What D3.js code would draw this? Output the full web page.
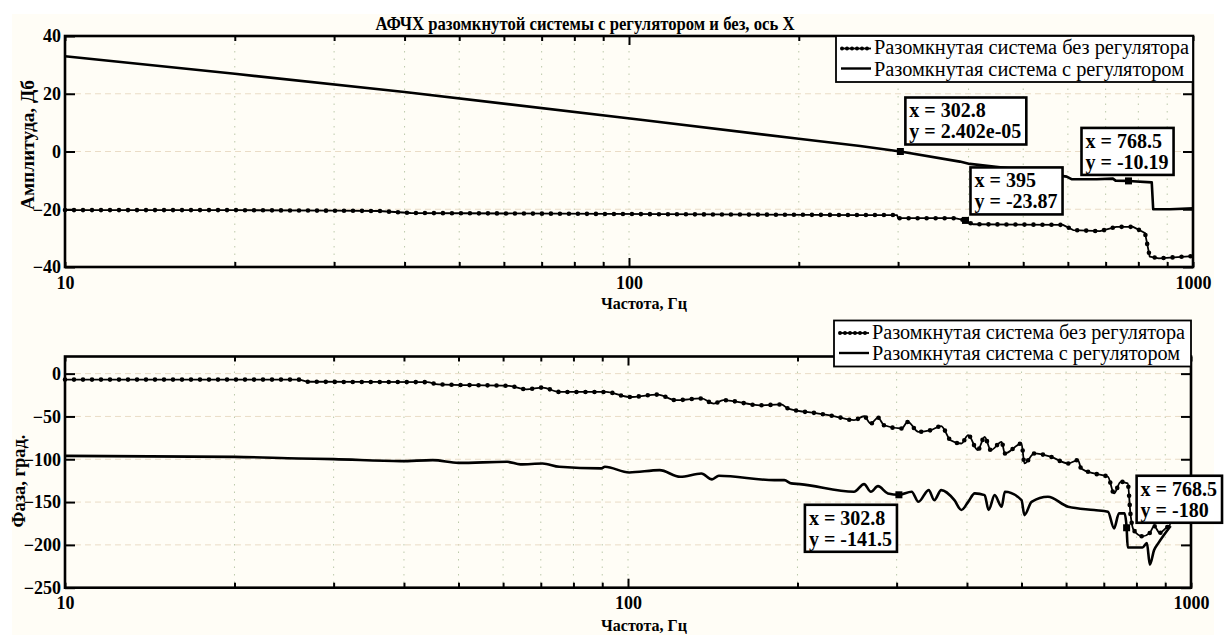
<!DOCTYPE html>
<html>
<head>
<meta charset="utf-8">
<script src="https://cdn.jsdelivr.net/npm/d3@7"></script>
<style>
  body { margin: 0; background: #fff; }
  text { font-family: "Liberation Serif", "Times New Roman", serif; }
</style>
</head>
<body>
<svg width="1226" height="637"></svg>
<script>
var FONT = "'Liberation Serif', 'Times New Roman', serif";

// ---- data ----
// amplitude, open loop without controller (dotted)
var magFreqNoReg = [10, 20, 30, 36, 41, 141, 257, 298.7, 300, 378, 395, 407, 588, 613, 684, 731, 783, 822, 838, 870, 1000];
var magNoReg     = [-20.3, -20.3, -20.5, -20.6, -21.3, -21.8, -22.0, -22.0, -23.1, -23.1, -23.87, -25.2, -25.4, -27.2, -27.6, -26.1, -26.1, -28.2, -36.4, -37, -36.2];
// amplitude, open loop with controller (solid)
var magFreqReg = [10, 20, 40, 105.8, 200, 257, 302.8, 386, 402, 480, 597, 609, 675, 721, 729, 768.5, 845, 850, 910, 1000];
var magReg     = [33, 26.9, 20.6, 10.9, 4.4, 1.9, 0, -3.5, -4.3, -6, -8.7, -9.6, -9.6, -9.4, -10.1, -10.19, -10.7, -20, -20, -19.7];

// phase, without controller (dotted)
var phFreqNoReg = [10, 26, 27, 44, 46, 61.5, 66, 70.5, 75.5, 91.4, 100.5, 113, 121.5, 135, 142, 147.7, 172, 187, 192.6, 218, 233, 252, 262.6, 270, 278, 285, 306, 314, 328, 345, 360, 374, 391, 402, 418, 430, 441, 461, 467, 500, 506, 527, 564, 605, 630, 638, 673, 712, 730, 750, 772, 781, 790, 820, 845, 860, 880, 900, 920];
var phNoReg     = [-7, -7, -9.5, -10, -12.5, -14.4, -18.3, -16.3, -21.4, -21.4, -27.3, -24.5, -31, -29, -35, -31, -37, -36, -40.8, -46.6, -49.8, -54.4, -49.8, -58.3, -51.3, -60.3, -64.1, -56.4, -68, -66, -61.4, -77.7, -81.6, -71.9, -89.4, -73.9, -89.4, -79.7, -93.2, -81.6, -104.9, -93.2, -97.2, -104.9, -101, -110.7, -116.6, -120.5, -139.9, -126.3, -128.2, -165, -182, -190, -186, -178, -186, -181, -176];
// phase, with controller (solid)
var phFreqReg = [10, 20, 26, 30, 39.5, 45, 50, 61, 64.4, 70.5, 75.5, 89.6, 91, 100.5, 113.8, 123.8, 135, 141, 145, 182, 189.5, 195, 202, 252, 262.6, 270, 278, 289.5, 302.8, 319, 328, 342, 350, 360, 380, 391, 402, 413, 430, 437, 448, 461, 467, 500, 506, 521, 557, 605, 673, 712, 730, 745, 762, 768.5, 772, 820, 835, 845, 860, 875, 920];
var phReg     = [-96, -97.2, -99.1, -99.9, -102.2, -101, -104.2, -103, -106, -105, -108.8, -110.7, -108.8, -115.4, -112.7, -120.5, -116.6, -123.5, -119.3, -124.4, -124.4, -128.2, -129, -138, -129, -138, -131.4, -139.9, -141.5, -138, -149.7, -136, -147.7, -136, -147.7, -159.3, -149.7, -139.9, -141.9, -159.3, -141.9, -155.4, -138, -147.7, -165.2, -149.7, -143.8, -155.4, -159.3, -161.3, -180.7, -163.2, -163.2, -180, -203, -203, -198, -223, -206, -198, -178];

var xTicksMajor = [10, 100, 1000];
var xTicksMinor = [20, 30, 40, 50, 60, 70, 80, 90, 200, 300, 400, 500, 600, 700, 800, 900];
var magTicks = [-40, -20, 0, 20, 40];
var phTicks = [-250, -200, -150, -100, -50, 0];

var legendNames = ["Разомкнутая система без регулятора", "Разомкнутая система с регулятором"];

// datatips: frequency, value, label text
var magTips = [
  {f: 302.8, v: 2.402e-05, lx: "x = 302.8", ly: "y = 2.402e-05", dx: 5, dy: -54},
  {f: 395, v: -23.87, lx: "x = 395", ly: "y = -23.87", dx: 5, dy: -53},
  {f: 768.5, v: -10.19, lx: "x = 768.5", ly: "y = -10.19", dx: -47, dy: -53}
];
var phTips = [
  {f: 302.8, v: -141.5, lx: "x = 302.8", ly: "y = -141.5", dx: -94, dy: 10},
  {f: 768.5, v: -180, lx: "x = 768.5", ly: "y = -180", dx: 10, dy: -52}
];

var svg = d3.select("svg");

// faint cream paper
svg.append("rect").attr("x", 12).attr("y", 14).attr("width", 1202).attr("height", 621).attr("fill", "#fffdf6");

// title
svg.append("text")
  .attr("x", 585).attr("y", 30).attr("text-anchor", "middle")
  .style("font-size", "19px").style("font-weight", "bold").style("font-family", FONT)
  .attr("textLength", 419).attr("lengthAdjust", "spacingAndGlyphs")
  .text("АФЧХ разомкнутой системы с регулятором и без, ось X");

function drawPanel(cfg) {
  var x = d3.scaleLog().domain([10, 1000]).range([cfg.left, cfg.right]);
  var y = d3.scaleLinear().domain(cfg.domain).range([cfg.bottom, cfg.top]);
  var g = svg.append("g");

  // grid
  g.append("g").selectAll("line").data(xTicksMinor.concat([100])).enter().append("line")
    .attr("x1", function(d){ return x(d) }).attr("x2", function(d){ return x(d) })
    .attr("y1", cfg.top).attr("y2", cfg.bottom)
    .attr("stroke", "#9fb38c").attr("stroke-opacity", 0.7).attr("stroke-width", 1).attr("stroke-dasharray", "1.5,6");
  g.append("g").selectAll("line").data(cfg.ticks).enter().append("line")
    .attr("x1", cfg.left).attr("x2", cfg.right)
    .attr("y1", function(d){ return y(d) }).attr("y2", function(d){ return y(d) })
    .attr("stroke", "#eadcc6").attr("stroke-width", 1).attr("stroke-dasharray", "6,4");

  // ticks via axes (inward)
  var allX = xTicksMajor.concat(xTicksMinor);
  var axB = g.append("g").attr("transform", "translate(0," + cfg.bottom + ")")
    .call(d3.axisBottom(x).tickValues(allX).tickSizeInner(-5).tickSizeOuter(0).tickPadding(9)
      .tickFormat(function(d){ return xTicksMajor.indexOf(d) >= 0 ? d : "" }));
  var axT = g.append("g").attr("transform", "translate(0," + cfg.top + ")")
    .call(d3.axisTop(x).tickValues(allX).tickSizeInner(-5).tickSizeOuter(0).tickFormat(""));
  var axL = g.append("g").attr("transform", "translate(" + cfg.left + ",0)")
    .call(d3.axisLeft(y).tickValues(cfg.ticks).tickSizeInner(-10).tickSizeOuter(0).tickPadding(4));
  var axR = g.append("g").attr("transform", "translate(" + cfg.right + ",0)")
    .call(d3.axisRight(y).tickValues(cfg.ticks).tickSizeInner(-10).tickSizeOuter(0).tickFormat(""));
  [axB, axT, axL, axR].forEach(function(a){
    a.attr("font-family", FONT);
    a.select(".domain").remove();
    a.selectAll(".tick line").attr("stroke", "#000").attr("stroke-width", 2);
    a.selectAll("text").attr("fill", "#000").style("font-size", "18px").style("font-weight", "bold")
      .style("font-family", FONT);
  });
  axB.selectAll(".tick line").filter(function(d){ return d == 100 }).attr("y2", -9);
  axT.selectAll(".tick line").filter(function(d){ return d == 100 }).attr("y2", 9);

  // curves
  var line = d3.line()
    .x(function(d){ return x(d[0]) })
    .y(function(d){ return y(d[1]) })
    .curve(cfg.curve);
  var noReg = d3.zip(cfg.fNoReg, cfg.vNoReg);
  var reg = d3.zip(cfg.fReg, cfg.vReg);
  g.append("path").datum(reg).attr("d", line)
    .attr("fill", "none").attr("stroke", "#000").attr("stroke-width", 2.6).attr("stroke-linejoin", "round");
  g.append("path").datum(noReg).attr("d", line)
    .attr("fill", "none").attr("stroke", "#000").attr("stroke-width", 1.8).attr("stroke-linejoin", "round");
  // dot markers along the "без регулятора" line
  g.append("path").datum(noReg).attr("d", line)
    .attr("fill", "none").attr("stroke", "#000").attr("stroke-width", 4.6)
    .attr("stroke-linecap", "round").attr("stroke-dasharray", "0,9");

  // frame
  g.append("rect").attr("x", cfg.left).attr("y", cfg.top)
    .attr("width", cfg.right - cfg.left).attr("height", cfg.bottom - cfg.top)
    .attr("fill", "none").attr("stroke", "#000").attr("stroke-width", 2.6);

  // axis labels
  g.append("text").attr("x", 644).attr("y", cfg.xlabelY).attr("text-anchor", "middle")
    .style("font-size", "17px").style("font-weight", "bold").style("font-family", FONT)
    .attr("textLength", 86).attr("lengthAdjust", "spacingAndGlyphs")
    .text("Частота, Гц");
  g.append("text").attr("transform", "translate(" + cfg.ylabelX + "," + cfg.ylabelY + ") rotate(-90)")
    .attr("text-anchor", "middle")
    .style("font-size", "18px").style("font-weight", "bold").style("font-family", FONT)
    .attr("textLength", cfg.ylabelLen).attr("lengthAdjust", "spacingAndGlyphs")
    .text(cfg.ylabel);

  // datatips
  cfg.tips.forEach(function(t){
    var px = x(t.f), py = y(t.v);
    g.append("rect").attr("x", px - 3.5).attr("y", py - 3.5).attr("width", 7).attr("height", 7).attr("fill", "#000");
    var tip = g.append("g").attr("transform", "translate(" + (px + t.dx) + "," + (py + t.dy) + ")");
    var box = tip.append("rect").attr("fill", "#fff").attr("stroke", "#000").attr("stroke-width", 2.6);
    var t1 = tip.append("text").attr("x", 4).attr("y", 20).style("font-size", "20px").style("font-weight", "bold").style("font-family", FONT).text(t.lx);
    var t2 = tip.append("text").attr("x", 4).attr("y", 41).style("font-size", "20px").style("font-weight", "bold").style("font-family", FONT).text(t.ly);
    var w = Math.max(t1.node().getComputedTextLength(), t2.node().getComputedTextLength()) + 9;
    box.attr("width", w).attr("height", 47);
  });

  // legend
  var lg = g.append("g").attr("transform", "translate(" + (cfg.right - 357) + "," + cfg.legendY + ")");
  lg.append("rect").attr("width", 357).attr("height", 46)
    .attr("fill", "#fff").attr("stroke", "#000").attr("stroke-width", 1.8);
  lg.append("line").attr("x1", 5).attr("x2", 35).attr("y1", 12.5).attr("y2", 12.5)
    .attr("stroke", "#000").attr("stroke-width", 1.8);
  lg.append("line").attr("x1", 6).attr("x2", 35).attr("y1", 12.5).attr("y2", 12.5)
    .attr("stroke", "#000").attr("stroke-width", 4).attr("stroke-linecap", "round").attr("stroke-dasharray", "0,5");
  lg.append("line").attr("x1", 5).attr("x2", 35).attr("y1", 32.5).attr("y2", 32.5)
    .attr("stroke", "#000").attr("stroke-width", 2.4);
  lg.selectAll("text.lgt").data(legendNames).enter().append("text").attr("class", "lgt")
    .attr("x", 38).attr("y", function(d, i){ return 18 + i * 21.5 })
    .style("font-size", "20px").style("font-family", FONT)
    .attr("textLength", function(d, i){ return cfg.legendLen[i] }).attr("lengthAdjust", "spacingAndGlyphs")
    .text(function(d){ return d });
}

drawPanel({
  left: 65, right: 1193, top: 36, bottom: 267, domain: [-40, 40], ticks: magTicks,
  fNoReg: magFreqNoReg, vNoReg: magNoReg, fReg: magFreqReg, vReg: magReg,
  curve: d3.curveLinear, tips: magTips,
  ylabel: "Амплитуда, Дб", ylabelX: 34, ylabelY: 145, ylabelLen: 130,
  xlabelY: 309, legendY: 36, legendLen: [315, 310]
});

drawPanel({
  left: 65, right: 1191, top: 356.5, bottom: 587.7, domain: [-250, 20], ticks: phTicks,
  fNoReg: phFreqNoReg, vNoReg: phNoReg, fReg: phFreqReg, vReg: phReg,
  curve: d3.curveMonotoneX, tips: phTips,
  ylabel: "Фаза, град.", ylabelX: 25, ylabelY: 481, ylabelLen: 93,
  xlabelY: 631, legendY: 320.5, legendLen: [313, 308]
});
</script>
</body>
</html>
